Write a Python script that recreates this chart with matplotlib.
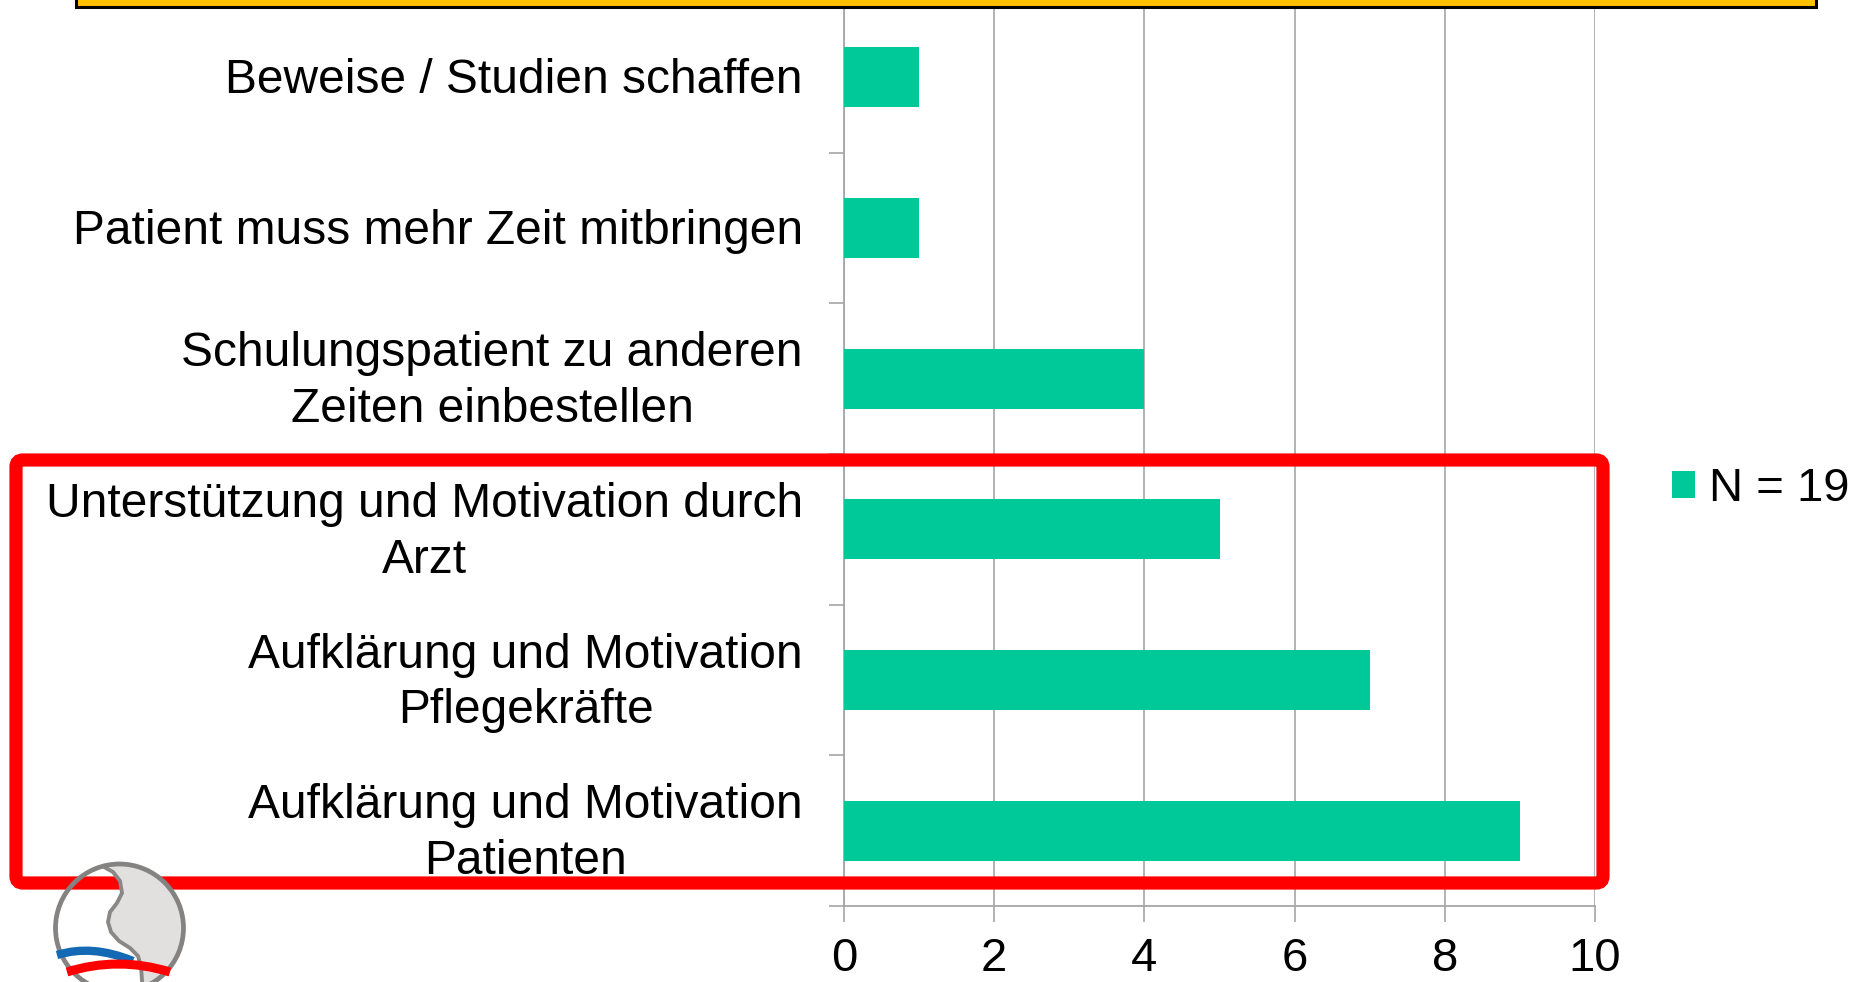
import matplotlib
matplotlib.use("Agg")
import matplotlib.pyplot as plt
import matplotlib.transforms as mtransforms
import numpy as np
from matplotlib.patches import Rectangle, FancyBboxPatch, Circle, Polygon, PathPatch
from matplotlib.path import Path

plt.rcParams['font.family'] = ['Liberation Sans', 'DejaVu Sans']

# data, bottom to top as drawn
categories = [
    "Aufklärung und Motivation\nPatienten",
    "Aufklärung und Motivation\nPflegekräfte",
    "Unterstützung und Motivation durch\nArzt",
    "Schulungspatient zu anderen\nZeiten einbestellen",
    "Patient muss mehr Zeit mitbringen",
    "Beweise / Studien schaffen",
]
counts = [9, 7, 5, 4, 1, 1]
series_name = "N = 19"
x_ticks = [0, 2, 4, 6, 8, 10]

bar_color = "#00C999"
grid_color = "#A6A6A6"
W, H = 1865, 982

fig = plt.figure(figsize=(W / 100, H / 100), dpi=100)
fig.patch.set_facecolor("white")

# main chart axes (pixel bounds measured from reference)
left, right, top, bottom = 844, 1595, 2, 906
ax = fig.add_axes([left / W, 1 - bottom / H, (right - left) / W, (bottom - top) / H])

y = np.arange(len(categories))
bars = ax.barh(y, counts, height=0.4, color=bar_color, label=series_name, zorder=3)

ax.set_xlim(0, 10)
ax.set_ylim(-0.5, len(categories) - 0.5)
ax.set_xticks(x_ticks)
ax.set_xticklabels([str(t) for t in x_ticks], fontsize=34)
ax.set_yticks(y)
ax.set_yticklabels([])
ax.set_yticks(np.arange(-0.5, len(categories), 1.0), minor=True)

# category labels as texts, right-aligned a bit left of the axis
blend = mtransforms.blended_transform_factory(ax.transAxes, ax.transData)
for yi, name in zip(y, categories):
    tr = mtransforms.offset_copy(blend, fig=fig, x=-41, y=-3, units="dots")
    ax.text(0, yi, name, transform=tr, ha="right", va="center", fontsize=34.5,
            multialignment="center", linespacing=1.3)

ax.xaxis.grid(True, color=grid_color, linewidth=1.2, zorder=0)
ax.set_axisbelow(True)
for side in ["top", "right"]:
    ax.spines[side].set_visible(False)
for side in ["left", "bottom"]:
    ax.spines[side].set_color(grid_color)
    ax.spines[side].set_linewidth(1.3)

ax.tick_params(axis="y", which="major", length=0)
ax.tick_params(axis="y", which="minor", length=11, color=grid_color, width=1.2)
ax.tick_params(axis="x", which="major", length=11.5, color=grid_color, width=1.2, pad=11)

fig.legend(handles=[bars], labels=[series_name], loc="center left",
           bbox_to_anchor=(1648 / W, 1 - 489 / H), frameon=False, fontsize=34,
           handlelength=0.5, handleheight=0.5, handletextpad=0.3, borderpad=0)

# overlay in pixel coordinates for decorations
ov = fig.add_axes([0, 0, 1, 1], zorder=10)
ov.set_xlim(0, W)
ov.set_ylim(H, 0)
ov.axis("off")
ov.patch.set_alpha(0)

# yellow title box (cut off at top)
ov.add_patch(Rectangle((76, -20), 1816 - 76, 27, facecolor="#FFC000",
                       edgecolor="black", linewidth=2.2))

# red highlight frame
ov.add_patch(FancyBboxPatch((16, 460), 1603 - 16, 883 - 460,
                            boxstyle="round,pad=0,rounding_size=7",
                            facecolor="none", edgecolor="#FF0000", linewidth=9.5))

# logo bottom left
cx, cy, r = 119.5, 928, 64
clip = Circle((cx, cy), r, transform=ov.transData)
s_curve = [(104, 867), (113, 872), (120, 881), (122, 893), (117, 903), (110, 912),
           (108, 922), (111, 932), (119, 941), (130, 948), (138, 956), (141, 966),
           (143, 995)]
shade = Polygon(s_curve + [(200, 995), (200, 850), (104, 850)], closed=True,
                facecolor="#E2E0DE", edgecolor="none")
ov.add_patch(shade)
shade.set_clip_path(clip)
cp = PathPatch(Path(s_curve), facecolor="none", edgecolor="#8A8886", linewidth=2.8)
ov.add_patch(cp)
cp.set_clip_path(clip)
ov.add_patch(Circle((cx, cy), r, facecolor="none", edgecolor="#858381", linewidth=3.4))
blue = Path([(57, 955), (92, 944), (133, 961)], [Path.MOVETO, Path.CURVE3, Path.CURVE3])
ov.add_patch(PathPatch(blue, facecolor="none", edgecolor="#1469B5", linewidth=6, capstyle="butt"))
red = Path([(67, 972), (118, 956), (170, 972)], [Path.MOVETO, Path.CURVE3, Path.CURVE3])
ov.add_patch(PathPatch(red, facecolor="none", edgecolor="#FF0000", linewidth=6.5, capstyle="butt"))

fig.savefig("out.png", dpi=100)
